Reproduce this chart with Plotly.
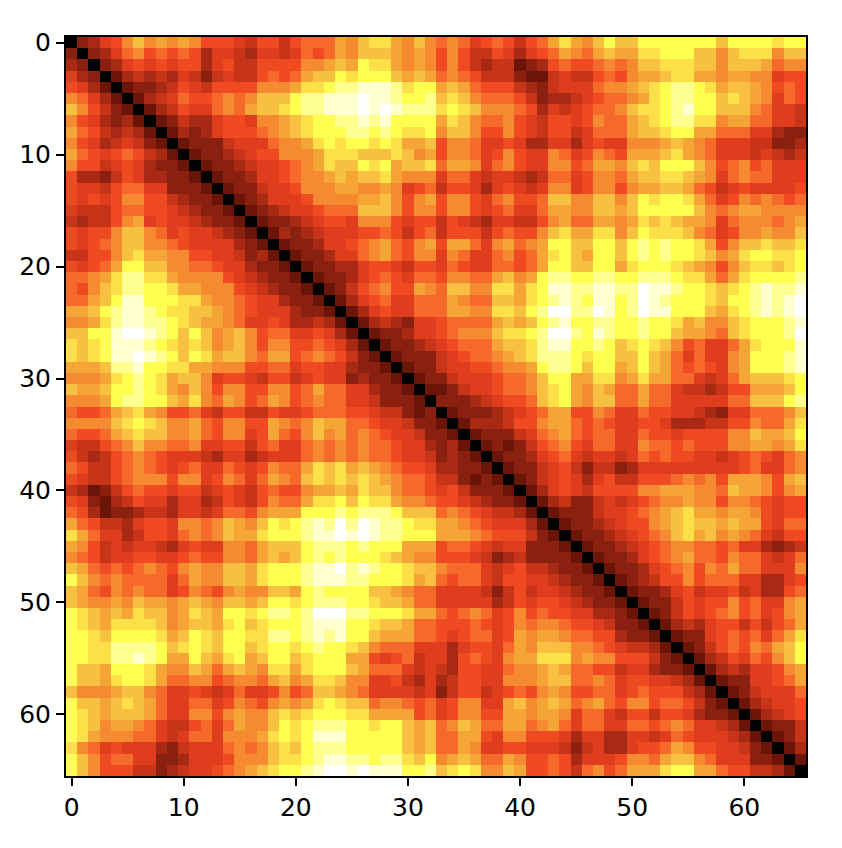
import numpy as np
import plotly.graph_objects as go

# Upper triangle of the symmetric matrix, one row per line, starting at the diagonal.
# Each character is a colour level (hex, 0 = black ... f = white).
upper_rows = [
"0235 68a898 9866654664 677798abb9 8a87875676 4679b98aca acccccccac cccbcc",
"023578676 7635543554 576798aaa9 8986864465 35679879a9 9bbcccaa8a bbb8aa",
"02356565 6635644666 6889a9cbb9 8986864344 1236766787 8aabbbaa8a aa9788",
"0134343 5424544676 79aacbccca 9a97876444 2114544676 899abb9989 988566",
"012234 6546666888 9bbcddeeed bcc9a97666 4324555788 9abcddcb9a a98676",
"01345 7667878aaa cddeeefeed ccdaba8777 6423345677 89bcddccab a98576",
"0134 6557879aab cddeeefefe dddbcba888 7635456778 abbcdeccaa a87554",
"012 4335665889 abccddedec ccc9ba8778 6546656877 9abcddbb89 977554",
"01 3235666789 abcccddcdc bbc8aa8668 6546645777 9aabcc9977 755322",
"0 1222455578 89bcbccbcb 99a6887556 5335535655 8889a98755 544223",
"0122345668 889bbbaaab a896887568 6558756876 999ab98755 545434",
"012234556 789baacbc9 aab7998578 6558867998 abaccca867 867555",
"01223556 7889a9aab9 8885775455 4347756887 9aabba9857 877555",
"0122455 6888998898 5674665356 5458856886 899aa97645 655556",
"012355 56888899a8 6896886578 667aa88aa8 acbccb9756 878767",
"01234 556777aaa8 6886886567 5579988aa9 accccca878 998888",
"0122 3456658886 5664654355 4468977998 9baba99857 888789",
"013 2345556676 4674666467 668ab99bb8 acbbba8756 88988a",
"01 2235567897 6896997589 789ccaacca cdcdccb968 aabaab",
"0 1223557897 6885875578 679bca9cca cdcdccba89 bccbbc",
"0122335665 4665765577 679ccaacc9 bcccba9868 abbabc",
"012235676 577688779a 89cddccddc cdddcbb979 bccccd",
"01246786 6987aa88bb 9bceeddeed dfeedccbab cdedde",
"0135675 57779877aa 9bcdedceec dfedcccbac cdedef",
"013565 57779988bb acdffddfec dfeeccca9b cdedef",
"01343 255677779a 9acdeccddc cdccb9a88a bcccde",
"0122 35567888ab bcdffdcedc cdcca9987a bcccdf",
"012 234567779a abdeeccdca bcba867557 9bccce",
"01 2224567789 abdddcbcca aca9757558 9cccde",
"0 1224556678 89cddcacc9 aca9767658 9cccde",
"0122455567 78acc99bb8 9b99775457 9aaabc",
"011245567 78abc98a97 7977544346 6999ac",
"02223456 67abc98aa7 7977555557 7aaacd",
"0122234 5679966875 5766554325 57778a",
"013334 6689976765 5665333446 68779b",
"01222 4578976775 5766566668 8a99ac",
"0121 2467865775 5877676668 89989b",
"012 2356754554 5767665545 676578",
"01 2245642442 3555555555 675578",
"0 1245653564 4666787869 99869a",
"0135654666 688999887a 998689",
"013422454 5678898868 876566",
"01222455 6789ab9989 986566",
"0122345 6689abaa9a 996577",
"012234 5678ab9a89 875466",
"01223 4567887767 553234",
"0122 3567897768 775457",
"012 2356786879 775558",
"01 2346686777 553356",
"0 1223564556 453367",
"0122465668 675589",
"012465678 675689",
"01343566 464679",
"0122567 67579b",
"012467 6879ac",
"01346 5768ac",
"0134 355689",
"012 255679",
"01 245557",
"0 134556",
"013456",
"01224",
"0124",
"013",
"01",
"0",
]
tick_values = [0, 10, 20, 30, 40, 50, 60]
level_colors = ["#000000", "#6b1408", "#8a2010", "#a82a14", "#c83418", "#e03c1e",
                "#f04a22", "#f56a2a", "#f58a30", "#f5a535", "#f8c040", "#fde048",
                "#ffff50", "#ffff90", "#ffffd0", "#ffffff"]

n = len(upper_rows)
bad = [(i, len(r.replace(" ", ""))) for i, r in enumerate(upper_rows) if len(r.replace(" ", "")) != n - i]
if bad:
    raise SystemExit(f"bad rows {bad}")
z = np.zeros((n, n))
for i, r in enumerate(upper_rows):
    for k, ch in enumerate(r.replace(" ", "")):
        z[i, i + k] = z[i + k, i] = int(ch, 16)

fig = go.Figure(go.Heatmap(
    z=z, zmin=0, zmax=15, showscale=False, hoverongaps=False,
    colorscale=[[i / 15, c] for i, c in enumerate(level_colors)],
))
tick_font = dict(family="DejaVu Sans", size=25, color="black")
axis = dict(tickmode="array", tickvals=tick_values, ticks="outside", ticklen=8, tickwidth=2,
            tickcolor="black", showline=True, linecolor="black", linewidth=2, mirror=True,
            showgrid=False, zeroline=False)
fig.update_xaxes(range=[-0.5, 65.5], tickfont=tick_font, **axis)
fig.update_yaxes(range=[65.5, -0.5], tickfont=tick_font, **axis)
fig.update_layout(width=826, height=832, margin=dict(l=58, r=28, t=29, b=64),
                  font=tick_font, plot_bgcolor="white", paper_bgcolor="white")
fig.write_html("out.html")
